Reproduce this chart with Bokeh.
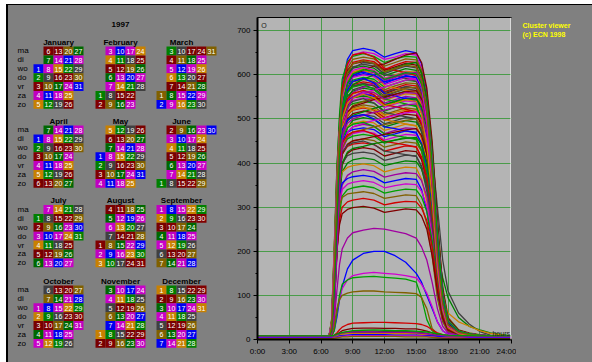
import datetime
from bokeh.plotting import figure
from bokeh.layouts import row
from bokeh.models import Range1d, FixedTicker, SingleIntervalTicker, Label, Span
from bokeh.core.properties import value
from bokeh.embed import file_html
from bokeh.resources import INLINE

# ---------------- data ----------------
YEAR = 1997
MONTHS = ["January", "February", "March", "April", "May", "June",
          "July", "August", "September", "October", "November", "December"]
WEEKDAYS = ["ma", "di", "wo", "do", "vr", "za", "zo"]
# colour of each day follows this 10-colour cycle (read from the calendar)
DAY_COLORS = ["#0000f0", "#008000", "#800000", "#c000c0", "#c88000",
              "#780000", "#006800", "#c800c8", "#404040", "#806000"]
LINE_COLORS = ["#0000ff", "#008000", "#d00000", "#d000d0", "#d08000",
               "#800000", "#00a000", "#a000a0", "#404040", "#806000"]

HOUR_TICKS = [0, 3, 6, 9, 12, 15, 18, 21, 24]
HOUR_LABELS = ["0:00", "3:00", "6:00", "9:00", "12:00", "15:00", "18:00", "21:00", "24:00"]

T = [0, 6.75, 7, 7.25, 7.5, 7.75, 8, 8.5, 9, 10, 11, 12, 13, 14, 15, 15.5,
     16, 16.5, 17, 17.5, 18, 19, 20, 21, 22, 24]

WORKDAY_CURVES = [
    [6,6,25,140,330,480,580,635,655,660,655,640,648,655,650,625,560,430,250,110,45,20,14,10,8,6],
    [5,5,18,100,270,430,540,620,645,652,648,635,640,648,645,615,545,410,230,95,40,18,12,9,7,5],
    [7,7,35,180,380,510,590,630,642,648,642,628,636,642,640,600,520,380,200,85,35,17,12,9,7,6],
    [6,6,20,120,300,460,560,615,635,640,636,620,628,636,634,612,550,440,270,120,50,22,15,11,8,6],
    [5,5,15,80,240,400,520,600,628,634,630,612,622,630,628,605,530,400,220,90,38,18,12,9,7,5],
    [6,6,30,160,350,480,565,610,625,630,626,610,618,626,622,590,510,370,190,80,32,16,11,9,7,6],
    [7,7,22,110,290,440,540,595,618,624,620,603,612,620,616,595,540,420,250,110,46,20,14,10,8,7],
    [5,5,40,200,390,500,570,605,615,620,615,598,606,614,610,580,500,360,180,75,30,15,11,8,7,5],
    [6,6,18,90,250,410,520,585,606,614,610,592,600,608,606,585,525,410,240,100,42,19,13,10,8,6],
    [6,6,28,150,330,460,545,590,603,609,605,588,596,603,600,570,495,350,175,72,30,15,11,8,7,6],
    [7,7,16,75,220,380,500,570,596,603,598,580,590,598,595,575,520,405,245,105,44,19,13,10,8,7],
    [5,5,33,170,350,470,545,580,594,600,596,578,586,594,590,560,485,345,170,70,29,14,10,8,7,5],
    [6,6,21,115,290,430,520,570,588,594,590,572,580,588,585,562,505,395,230,98,40,18,12,9,7,6],
    [6,6,45,210,380,480,540,572,584,590,585,566,575,582,580,548,470,330,160,66,27,14,10,8,7,6],
    [7,7,19,95,260,410,505,560,578,584,580,562,570,578,575,555,500,390,230,96,40,18,12,9,8,7],
    [5,5,26,140,320,450,525,562,574,580,575,557,566,573,570,540,465,330,165,68,28,14,10,8,6,5],
    [6,6,14,70,210,370,480,545,566,574,570,552,560,568,565,545,492,385,228,96,40,18,12,9,7,6],
    [6,6,36,185,350,460,520,552,563,570,566,548,556,563,560,528,455,320,158,65,27,13,10,8,7,6],
    [7,7,23,120,290,420,500,540,556,564,560,542,550,557,555,532,475,370,218,92,38,17,12,9,8,7],
    [5,5,17,85,240,390,480,530,550,558,554,536,544,551,548,525,470,360,210,88,36,17,12,9,7,5],
    [6,6,31,160,330,450,510,540,550,556,551,532,540,548,545,515,440,310,150,62,26,13,10,8,6,6],
    [6,6,20,105,270,400,485,525,542,548,544,526,534,541,538,518,462,360,212,90,37,17,12,9,7,6],
    [7,7,42,200,360,450,500,527,535,540,536,518,526,533,530,498,425,300,145,60,25,13,10,8,7,7],
    [5,5,15,75,215,360,455,505,525,532,528,510,518,525,522,502,450,350,205,86,35,16,11,9,7,5],
    [6,6,27,140,305,420,480,510,520,525,520,503,510,517,515,485,415,295,142,58,24,12,9,7,6,6],
    [6,6,19,95,250,380,460,500,512,518,514,497,504,511,508,488,437,340,200,84,34,16,11,9,7,6],
    [7,7,35,175,330,430,475,497,505,510,506,489,496,503,500,470,400,285,138,57,23,12,9,7,6,7],
    [5,5,13,65,200,340,435,480,497,503,499,482,489,496,493,474,425,330,195,82,33,15,11,8,7,5],
    [6,6,24,130,290,400,458,483,490,495,491,474,481,488,485,455,390,277,134,55,23,12,9,7,6,6],
    [6,6,18,90,240,360,440,470,482,488,484,467,474,480,478,460,413,322,190,80,32,15,11,8,7,6],
    [7,7,38,180,320,410,450,470,476,480,476,460,466,473,470,442,378,270,130,54,22,12,9,7,6,7],
    [5,5,16,78,210,340,425,457,467,472,468,452,459,465,463,444,400,312,185,78,32,15,11,8,7,5],
    [6,6,29,150,300,395,437,455,461,465,461,445,452,458,455,428,367,262,126,52,22,11,9,7,6,6],
    [6,6,21,105,250,360,420,443,451,455,451,436,442,448,445,427,385,300,178,75,31,14,10,8,7,6],
    [7,7,33,165,300,385,420,438,443,446,442,427,433,439,437,410,352,252,122,50,21,11,8,7,6,7],
    [5,5,14,70,200,320,395,422,430,435,431,416,422,428,426,408,368,288,170,72,30,14,10,8,6,5],
    [6,6,26,135,275,360,400,417,422,425,421,406,412,418,416,390,335,240,116,48,20,11,8,7,6,6],
    [6,6,19,95,230,330,380,400,407,412,408,394,400,405,403,386,348,272,160,68,28,13,10,8,6,6],
    [7,7,36,170,290,355,380,390,394,398,394,380,386,391,389,364,313,225,108,45,19,10,8,7,6,7],
    [5,5,15,72,190,295,350,372,380,385,381,368,374,378,376,360,325,253,150,64,27,13,9,8,6,5],
    [6,6,28,140,260,330,355,365,369,372,368,355,360,365,363,340,292,210,102,43,18,10,8,7,6,6],
    [6,6,20,95,220,305,340,352,356,360,356,344,349,353,351,336,303,236,140,60,26,12,9,7,6,6],
    [7,7,17,80,200,285,325,340,344,348,344,332,337,341,339,323,290,225,134,57,24,12,9,7,6,7],
    [5,5,30,145,250,305,322,330,332,335,331,320,324,328,326,305,262,190,93,40,18,10,8,7,6,5],
    [6,6,18,85,200,270,300,312,316,320,316,305,310,313,312,298,270,210,125,54,23,11,9,7,6,6],
    [6,6,22,100,200,260,285,295,299,302,298,288,292,296,294,280,250,190,110,48,21,11,8,7,6,6],
    [6,6,20,110,280,420,510,560,575,580,576,560,567,573,570,550,500,420,300,180,110,60,35,18,10,6],
    [7,7,25,130,300,430,500,535,548,552,548,532,540,546,543,525,470,360,200,140,95,50,30,22,15,8],
    [6,6,18,90,250,390,470,510,522,527,523,508,515,520,518,500,450,350,190,100,60,40,30,20,14,7],
    [6,6,10,40,110,170,205,230,242,248,252,250,245,240,230,210,180,130,70,30,15,10,8,7,6,6],
    [6,6,8,20,50,90,120,160,180,195,200,200,190,175,150,130,100,70,40,20,12,9,8,7,6,6],
    [6,6,8,25,60,95,115,135,145,150,152,150,148,145,140,125,105,75,40,20,12,9,8,7,6,6],
    [6,6,8,20,60,100,125,135,140,142,143,141,139,137,130,95,45,20,12,10,9,8,7,7,6,6],
    [6,6,8,30,70,90,100,105,108,110,110,108,107,106,104,95,70,25,12,9,8,7,6,6,6,6],
    [6,6,22,130,320,470,570,625,645,650,640,615,610,605,598,575,515,400,230,100,42,19,13,10,8,6],
    [5,5,30,150,330,460,540,580,598,610,620,625,635,645,650,628,570,450,270,115,48,21,14,10,8,5],
    [6,6,18,100,280,430,530,590,615,628,625,600,598,592,585,560,500,385,220,95,40,18,12,9,7,6],
    [7,7,26,140,310,440,520,560,578,590,600,606,615,624,628,605,548,430,255,108,45,20,13,10,8,7],
    [6,6,34,170,350,470,545,590,605,612,600,575,570,565,560,535,475,360,200,85,36,17,12,9,7,6],
    [5,5,16,90,250,400,495,540,560,572,580,585,594,602,606,585,528,415,245,104,43,19,13,10,8,5],
    [6,6,24,125,300,430,515,565,585,592,582,558,552,546,540,515,458,350,195,82,35,16,11,9,7,6],
    [7,7,20,105,275,410,500,535,548,558,566,572,580,588,590,570,515,405,240,100,42,19,13,10,8,7],
    [6,6,38,185,350,455,520,560,572,578,568,545,540,534,528,500,440,330,180,76,32,15,11,8,7,6],
    [5,5,14,75,225,370,470,515,530,540,548,555,562,570,572,552,500,390,230,97,40,18,12,9,7,5],
    [6,6,28,150,320,440,505,545,558,565,555,532,528,522,516,490,430,320,175,74,31,15,11,8,7,6],
    [7,7,19,100,260,395,480,515,528,536,544,550,556,562,564,545,492,385,225,95,40,18,12,9,8,7],
    [6,6,32,165,330,440,500,530,540,546,536,515,510,505,500,475,418,312,170,72,30,14,10,8,7,6],
    [5,5,17,88,240,375,460,495,508,516,524,530,538,544,546,528,478,375,220,93,39,18,12,9,7,5],
    [6,6,25,135,300,415,480,512,522,528,518,498,494,489,484,460,405,303,165,70,29,14,10,8,7,6],
    [7,7,21,110,265,390,460,490,500,508,515,520,526,532,534,516,468,368,216,91,38,17,12,9,8,7],
    [6,6,40,190,340,430,475,498,506,510,500,482,478,473,468,445,393,295,160,68,28,14,10,8,7,6],
    [5,5,15,80,220,350,435,470,482,490,497,502,508,514,516,498,452,357,210,88,37,17,12,9,7,5],
    [6,6,27,145,295,400,455,480,488,492,483,466,462,458,453,430,380,286,155,66,28,13,10,8,7,6],
    [7,7,18,95,245,365,432,460,470,476,482,487,492,497,500,483,440,348,205,86,36,17,12,9,8,7],
    [6,6,30,160,310,405,445,464,470,474,465,449,445,441,436,414,367,277,150,64,27,13,10,8,7,6],
    [5,5,22,115,260,370,420,442,450,455,460,465,470,475,478,462,421,335,198,83,35,16,11,9,7,5],
    [6,6,35,175,310,390,425,440,446,450,442,427,423,419,415,394,350,265,144,61,26,12,9,7,6,6],
    [7,7,16,80,220,340,400,425,433,438,444,448,452,456,458,442,403,322,190,80,34,16,11,9,8,7],
    [6,6,43,205,345,440,500,535,548,556,548,530,536,544,540,510,440,320,160,66,27,13,10,8,7,6],
    [5,5,12,60,190,340,450,520,550,562,560,545,552,560,558,540,490,390,232,98,41,19,13,10,8,5],
    [6,6,24,125,300,440,530,580,600,606,600,584,590,597,594,570,510,395,230,97,40,18,12,9,7,6],
    [7,7,37,180,360,475,550,592,610,617,610,592,598,606,602,572,495,355,175,72,30,15,11,8,7,7],
    [6,6,20,110,285,430,525,580,602,612,608,590,597,605,602,580,522,405,238,100,42,19,13,10,8,6],
    [5,5,29,155,340,470,555,605,625,632,626,607,614,622,618,590,515,375,190,80,33,16,11,9,7,5],
]

LOW_CURVES = [
    [6,6,7,10,15,22,28,34,37,38,39,39,38,37,36,34,30,22,15,11,9,8,7,6,6,6],
    [6,6,7,9,12,16,20,23,25,26,26,25,25,24,24,22,19,15,11,9,8,7,6,6,6,6],
    [6,6,6,8,10,13,15,17,18,19,19,18,18,18,17,16,14,11,9,8,7,7,6,6,6,6],
    [6,6,6,7,9,11,13,15,16,16,16,15,15,15,14,13,12,10,8,7,7,6,6,6,6,6],
    [5,5,5,6,8,10,12,13,14,14,14,14,13,13,13,12,11,9,8,7,6,6,5,5,5,5],
    [7,7,8,9,11,13,15,16,17,17,17,16,16,16,15,14,13,11,10,9,8,8,7,7,7,7],
    [4,4,4,5,6,8,9,10,11,11,11,11,10,10,10,9,9,8,7,6,5,5,4,4,4,4],
    [3,3,3,4,5,6,7,8,8,9,9,9,8,8,8,8,7,6,5,4,4,4,3,3,3,3],
    [8,8,9,10,12,14,16,18,20,21,22,21,20,20,19,18,17,15,13,11,10,9,9,8,8,8],
    [2,2,2,3,4,5,6,6,7,7,7,7,7,6,6,6,6,5,4,3,3,3,2,2,2,2],
]

# ---------------- layout constants (screen pixels) ----------------
BG = "#808080"
FONT = "Liberation Sans"
BLOCK_X = [33, 95, 156]
BLOCK_Y = [46, 125, 204.5, 285]
CELL_W = 10
CELL_H = 8.9
X0, Y0 = 8, 5          # top-left of the grey panel
CAL_W = 212
CHART_W = 296
INFO_W = 584 - CAL_W - CHART_W
H = 357


def panel(x_start, width):
    f = figure(width=width, height=H, x_range=Range1d(x_start, x_start + width),
               y_range=Range1d(Y0 + H, Y0), output_backend="svg", toolbar_location=None,
               min_border=0, x_axis_type=None, y_axis_type=None)
    f.background_fill_color = BG
    f.border_fill_color = BG
    f.outline_line_color = None
    f.grid.visible = False
    if "frame_align" in f.properties():
        f.frame_align = False
    return f


# ---------------- calendar ----------------
cal = panel(X0, CAL_W)
cal.text(x=[120], y=[24], text=[str(YEAR)], text_font=value(FONT), text_font_size="8px",
         text_font_style="bold", text_align="center", text_baseline="middle", text_color="black")

cx, cy, ccol, ctxt = [], [], [], []
tx, ty, tt = [], [], []
wx, wy, wt = [], [], []
day_index = 0
for m in range(12):
    bx = BLOCK_X[m % 3]
    by = BLOCK_Y[m // 3]
    tx.append(bx + 25)
    ty.append(by - 4.5)
    tt.append(MONTHS[m])
    if m % 3 == 0:
        for r, wd in enumerate(WEEKDAYS):
            wx.append(17)
            wy.append(by + (r + 0.5) * CELL_H)
            wt.append(wd)
    first = datetime.date(YEAR, m + 1, 1)
    offset = first.weekday()
    d = first
    while d.month == m + 1:
        pos = d.day - 1 + offset
        col = pos // 7
        r = pos % 7
        cx.append(bx + (col + 0.5) * CELL_W)
        cy.append(by + (r + 0.5) * CELL_H)
        ccol.append(DAY_COLORS[day_index % len(DAY_COLORS)])
        ctxt.append(str(d.day))
        day_index += 1
        d = d + datetime.timedelta(days=1)

cal.rect(x=cx, y=cy, width=CELL_W, height=CELL_H, fill_color=ccol, line_color=None)
cal.text(x=cx, y=[v + 0.3 for v in cy], text=ctxt, text_font=value(FONT), text_font_size="7px",
         text_align="center", text_baseline="middle", text_color="white")
cal.text(x=tx, y=ty, text=tt, text_font=value(FONT), text_font_size="8px", text_font_style="bold",
         text_align="center", text_baseline="middle", text_color="black")
cal.text(x=wx, y=wy, text=wt, text_font=value(FONT), text_font_size="8px",
         text_align="left", text_baseline="middle", text_color="black")

# ---------------- chart ----------------
p = figure(x_range=Range1d(0, 24), y_range=Range1d(0, 730),
           frame_width=254, frame_height=322,
           min_border_left=37, min_border_right=CHART_W - 37 - 254, min_border_top=12, min_border_bottom=23,
           output_backend="svg", toolbar_location=None)
p.background_fill_color = "#b4b4b4"
p.border_fill_color = BG
p.outline_line_color = "black"
p.outline_line_width = 1
if "frame_align" in p.properties():
    p.frame_align = False

p.xaxis.ticker = FixedTicker(ticks=HOUR_TICKS)
p.xaxis.major_label_overrides = {t: l for t, l in zip(HOUR_TICKS, HOUR_LABELS)}
p.xaxis.minor_tick_line_color = None
p.yaxis.ticker = SingleIntervalTicker(interval=100, num_minor_ticks=2)
for ax in (p.xaxis, p.yaxis):
    ax.axis_line_color = "black"
    ax.axis_line_width = 2
    ax.major_tick_line_color = "black"
    ax.major_tick_out = 4
    ax.major_tick_in = 0
    ax.major_label_text_font = FONT
    ax.major_label_text_font_size = "8px"
    ax.major_label_text_color = "black"
    ax.major_label_standoff = 3
p.yaxis.minor_tick_line_color = "black"
p.yaxis.minor_tick_out = 2
p.yaxis.minor_tick_in = 0

p.xgrid.ticker = FixedTicker(ticks=HOUR_TICKS)
p.grid.grid_line_color = "#2f962f"
p.grid.grid_line_alpha = 0.8
p.grid.grid_line_width = 1

all_curves = WORKDAY_CURVES + LOW_CURVES
line_colors = [LINE_COLORS[(3 * i) % len(LINE_COLORS)] for i in range(len(all_curves))]
p.multi_line(xs=[T] * len(all_curves), ys=all_curves, line_color=line_colors, line_width=1.3)

p.add_layout(Span(location=24, dimension="height", line_color="white", line_width=2))

p.add_layout(Label(x=0.35, y=712, text="O", text_font=FONT, text_font_size="7px",
                   text_color="#202020", text_baseline="middle"))
p.add_layout(Label(x=22.2, y=14, text="hours", text_font=FONT, text_font_size="7px",
                   text_color="#202020", text_baseline="middle"))

# ---------------- info panel ----------------
info = panel(X0 + CAL_W + CHART_W, INFO_W)
info.text(x=[522, 522], y=[25, 34], text=["Cluster viewer", "(c) ECN 1998"], text_font=value(FONT),
          text_font_size="7px", text_font_style="bold", text_color="#ffff00",
          text_align="left", text_baseline="middle")

layout = row(cal, p, info, margin=(4, 0, 0, 6),
             styles={"border-top": "1px solid black", "border-left": "2px solid black",
                     "background-color": BG})
open("out.html", "w").write(file_html(layout, INLINE))
